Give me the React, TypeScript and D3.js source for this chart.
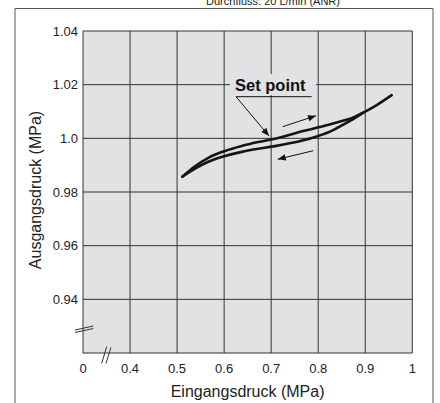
import React from "react";
import * as d3 from "d3";

const xTickValues = [0.3, 0.4, 0.5, 0.6, 0.7, 0.8, 0.9, 1.0];
const xTickLabels = ["0", "0.4", "0.5", "0.6", "0.7", "0.8", "0.9", "1"];
const yTickValues = [0.94, 0.96, 0.98, 1.0, 1.02, 1.04];
const yTickLabels = ["0.94", "0.96", "0.98", "1.0", "1.02", "1.04"];
const yGridValues = [0.94, 0.96, 0.98, 1.0, 1.02, 1.04];

const risingX = [0.5111, 0.5381, 0.5664, 0.6019, 0.6374, 0.6726, 0.7081, 0.7683, 0.8002, 0.8393, 0.8746, 0.8958, 0.9243, 0.9562];
const risingY = [0.9857, 0.9896, 0.99275, 0.9953, 0.99715, 0.9986, 0.99985, 1.0027, 1.0041, 1.0059, 1.0078, 1.0096, 1.0124, 1.0161];
const fallingX = [0.5111, 0.5381, 0.5664, 0.6019, 0.6374, 0.6726, 0.7081, 0.7683, 0.8002, 0.8251, 0.8533, 0.8818, 0.8958];
const fallingY = [0.9857, 0.9887, 0.99125, 0.9934, 0.99495, 0.9961, 0.9971, 0.9993, 1.0009, 1.0025, 1.0051, 1.0080, 1.0096];

const W = 440;
const H = 403;
const plotLeft = 83;
const plotRight = 412.3;
const plotTop = 31;
const plotBottom = 353;

export default function App() {
  const x = d3.scaleLinear().domain([0.3, 1.0]).range([plotLeft, plotRight]);
  const y = d3.scaleLinear().domain([0.92, 1.04]).range([plotBottom, plotTop]);

  const line = d3
    .line<[number, number]>()
    .x((d) => x(d[0]))
    .y((d) => y(d[1]))
    .curve(d3.curveMonotoneX);

  const rising: [number, number][] = risingX.map((v, i) => [v, risingY[i]]);
  const falling: [number, number][] = fallingX.map((v, i) => [v, fallingY[i]]);

  const grid = "#333";
  const text = "#222";
  const font = "'Liberation Sans', Arial, Helvetica, sans-serif";

  return (
    <svg
      width={W}
      height={H}
      style={{ position: "absolute", left: 0, top: 0, background: "#fff" }}
      fontFamily={font}
    >
      <defs>
        <marker
          id="ah"
          viewBox="0 0 10 10"
          refX="10"
          refY="5"
          markerWidth="10"
          markerHeight="8"
          markerUnits="userSpaceOnUse"
          orient="auto"
        >
          <path d="M0,1 L10,5 L0,9 Z" fill="#111" />
        </marker>
      </defs>

      {/* outer frame */}
      <path d={`M15,${H} L15,8.5 L433,8.5 L433,${H}`} fill="none" stroke="#555" strokeWidth={1} />
      <text x={273} y={4.5} fontSize={11} textAnchor="middle" fill={text}>
        Durchfluss: 20 L/min (ANR)
      </text>

      {/* plot background */}
      <rect x={plotLeft} y={plotTop} width={plotRight - plotLeft} height={plotBottom - plotTop} fill="#e1e2e4" />

      {/* vertical grid */}
      {xTickValues.map((v) => (
        <line key={"vx" + v} x1={x(v)} x2={x(v)} y1={plotTop} y2={plotBottom} stroke={grid} strokeWidth={1} />
      ))}
      {/* horizontal grid */}
      {yGridValues.map((v) => (
        <line key={"hy" + v} x1={plotLeft} x2={plotRight} y1={y(v)} y2={y(v)} stroke={grid} strokeWidth={1} />
      ))}
      <line x1={plotLeft} x2={plotRight} y1={plotBottom} y2={plotBottom} stroke={grid} strokeWidth={1} />

      {/* y tick labels */}
      {yTickValues.map((v, i) => (
        <text key={"yl" + v} x={78} y={y(v) + 4.5} fontSize={13} textAnchor="end" fill={text}>
          {yTickLabels[i]}
        </text>
      ))}
      {/* x tick labels */}
      {xTickValues.map((v, i) => (
        <text key={"xl" + v} x={x(v)} y={373} fontSize={13} textAnchor="middle" fill={text}>
          {xTickLabels[i]}
        </text>
      ))}

      {/* axis breaks */}
      <line x1={75} y1={330} x2={93.3} y2={326} stroke={grid} strokeWidth={1} />
      <line x1={75} y1={332.5} x2={93.3} y2={328.5} stroke={grid} strokeWidth={1} />
      <line x1={101.7} y1={363.3} x2={106.7} y2={346.7} stroke={grid} strokeWidth={1} />
      <line x1={106} y1={363.3} x2={111} y2={347.3} stroke={grid} strokeWidth={1} />

      {/* axis titles */}
      <text x={247.6} y={397} fontSize={16} textAnchor="middle" fill={text}>
        Eingangsdruck (MPa)
      </text>
      <text
        transform={`translate(41,190) rotate(-90)`}
        fontSize={16}
        textAnchor="middle"
        fill={text}
      >
        Ausgangsdruck (MPa)
      </text>

      {/* Set point label */}
      <rect x={230} y={74} width={86} height={21} fill="#e1e2e4" />
      <text x={235} y={90.7} fontSize={16.5} fontWeight="bold" fill="#111">
        Set point
      </text>
      <line x1={236} x2={311.7} y1={96.7} y2={96.7} stroke="#111" strokeWidth={1} />
      <line x1={236} y1={96.7} x2={269} y2={136} stroke="#111" strokeWidth={1} markerEnd="url(#ah)" />

      {/* direction arrows */}
      <line x1={282.7} y1={126.7} x2={316} y2={115.7} stroke="#111" strokeWidth={1} markerEnd="url(#ah)" />
      <line x1={313.3} y1={150.7} x2={277.7} y2={159.3} stroke="#111" strokeWidth={1} markerEnd="url(#ah)" />

      {/* curves */}
      <path d={line(rising) || ""} fill="none" stroke="#151515" strokeWidth={2.6} strokeLinecap="round" />
      <path d={line(falling) || ""} fill="none" stroke="#151515" strokeWidth={2.6} strokeLinecap="round" />
    </svg>
  );
}
